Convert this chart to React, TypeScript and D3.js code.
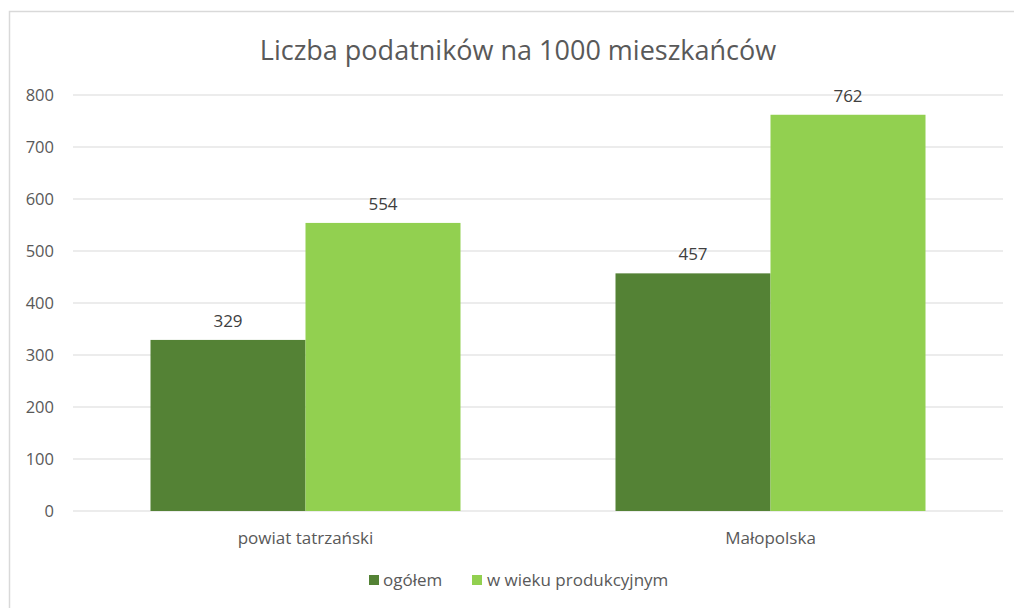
import React from "react";
import * as d3 from "d3";

const categories = ["powiat tatrzański", "Małopolska"];
const seriesNames = ["ogółem", "w wieku produkcyjnym"];
const ogolem = [329, 457];
const produkcyjny = [554, 762];
const yTicks = [0, 100, 200, 300, 400, 500, 600, 700, 800];
const colors = ["#548235", "#92D050"];
const title = "Liczba podatników na 1000 mieszkańców";

export default function App() {
  const W = 1014, H = 608;
  const left = 73, right = 1003, top = 95, bottom = 511;
  const font = "'Open Sans', sans-serif";
  const x = d3.scaleBand<string>().domain(categories).range([left, right]).padding(0);
  const y = d3.scaleLinear().domain([0, 800]).range([bottom, top]);
  const inner = d3.scaleBand<string>().domain(seriesNames).range([0, x.bandwidth()]).paddingOuter(0.5).paddingInner(0);
  const series = [ogolem, produkcyjny];
  return (
    <svg width={W} height={H} style={{ position: "absolute", left: 0, top: 0, background: "#fff" }} fontFamily={font}>
      <rect x={9.5} y={11.5} width={1020} height={620} fill="#fff" stroke="#d9d9d9" strokeWidth={1.5} />
      <text x={518} y={60} textAnchor="middle" fontSize={27} fill="#595959">{title}</text>
      {yTicks.map((t) => (
        <g key={t}>
          <line x1={left} x2={right} y1={y(t)} y2={y(t)} stroke="#d9d9d9" strokeWidth={1} />
          <text x={54} y={y(t) + 6} textAnchor="end" fontSize={16.5} fill="#595959">{t}</text>
        </g>
      ))}
      {categories.map((c, ci) => (
        <g key={c}>
          {seriesNames.map((s, si) => {
            const v = series[si][ci];
            const bx = (x(c) as number) + (inner(s) as number);
            return (
              <g key={s}>
                <rect x={bx} y={y(v)} width={inner.bandwidth()} height={bottom - y(v)} fill={colors[si]} />
                <text x={bx + inner.bandwidth() / 2} y={y(v) - 13} textAnchor="middle" fontSize={17} fill="#404040">{v}</text>
              </g>
            );
          })}
          <text x={(x(c) as number) + x.bandwidth() / 2} y={544} textAnchor="middle" fontSize={17} fill="#595959">{c}</text>
        </g>
      ))}
      <g>
        <rect x={369} y={575} width={10} height={10} fill={colors[0]} />
        <text x={383} y={586} fontSize={17} fill="#595959">{seriesNames[0]}</text>
        <rect x={472} y={575} width={10} height={10} fill={colors[1]} />
        <text x={487} y={586} fontSize={17} fill="#595959">{seriesNames[1]}</text>
      </g>
    </svg>
  );
}
